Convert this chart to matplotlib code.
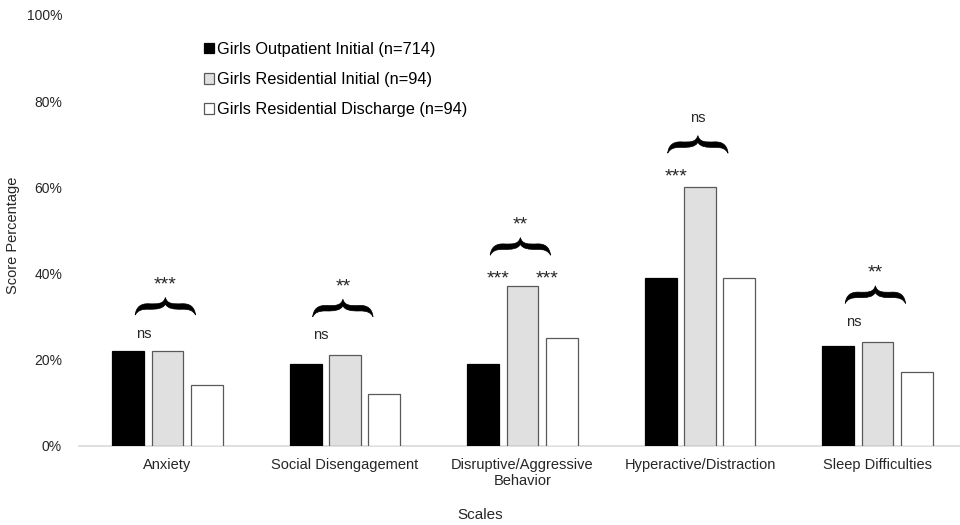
"""
Grouped bar chart: girls outpatient vs residential score percentages by scale.
"""
import numpy as np
import matplotlib
matplotlib.use("Agg")
import matplotlib.pyplot as plt
from matplotlib.patches import Patch, PathPatch
from matplotlib.path import Path
from matplotlib.ticker import PercentFormatter

plt.rcParams['font.family'] = ['Liberation Sans', 'DejaVu Sans']

# Data
categories = ['Anxiety', 'Social Disengagement', 'Disruptive/Aggressive\nBehavior',
              'Hyperactive/Distraction', 'Sleep Difficulties']
series_names = ['Girls Outpatient Initial (n=714)',
                'Girls Residential Initial (n=94)',
                'Girls Residential Discharge (n=94)']
outpatient_initial = [22, 19, 19, 39, 23]
residential_initial = [22, 21, 37, 60, 24]
residential_discharge = [14, 12, 25, 39, 17]

# significance marks: above brace, left of brace, right of brace
sig_top = ['***', '**', '**', 'ns', '**']
sig_left = ['ns', 'ns', '***', '***', 'ns']
sig_right = ['', '', '***', '', '']

# annotation layout (brace bottom, in % units)
brace_base = [30.3, 29.9, 44.2, 67.9, 33.0]

fill_colors = ['#000000', '#e0e0e0', '#ffffff']
edge_colors = ['#000000', '#595959', '#595959']


def draw_brace(ax, xc, y0, half_w=0.17, h=4.1):
    """Filled over-brace with its tip pointing up."""
    def p(u, v):
        return (xc + u * half_w, y0 + v * h)
    verts = [p(-1, 0),
             p(-0.97, 0.45), p(-0.82, 0.66), p(-0.55, 0.64),
             p(-0.25, 0.62), p(-0.06, 0.62), p(0, 1.0),
             p(0.06, 0.62), p(0.25, 0.62), p(0.55, 0.64),
             p(0.82, 0.66), p(0.97, 0.45), p(1, 0),
             p(0.92, 0.25), p(0.8, 0.34), p(0.55, 0.33),
             p(0.28, 0.32), p(0.08, 0.36), p(0, 0.62),
             p(-0.08, 0.36), p(-0.28, 0.32), p(-0.55, 0.33),
             p(-0.8, 0.34), p(-0.92, 0.25), p(-1, 0),
             p(-1, 0)]
    codes = ([Path.MOVETO] + [Path.CURVE4] * 24 + [Path.CLOSEPOLY])
    ax.add_patch(PathPatch(Path(verts, codes), facecolor='black',
                           edgecolor='black', lw=0.5, zorder=4))


def sig_text(ax, xpos, ypos, label):
    # asterisks sit high in the font, so draw them larger and a bit lower
    if '*' in label:
        ax.text(xpos, ypos - 1.2, label, ha='center', va='center',
                fontsize=14, zorder=5, color='#262626')
    else:
        ax.text(xpos, ypos, label, ha='center', va='center',
                fontsize=10.5, zorder=5, color='#262626')


fig = plt.figure(figsize=(9.6, 5.25), dpi=100)
ax = fig.add_axes([78.75 / 960, 79.5 / 525, 887.5 / 960, 430.5 / 525])

x = np.arange(len(categories))
step = 0.221
width = 0.18
all_series = [outpatient_initial, residential_initial, residential_discharge]
for i, vals in enumerate(all_series):
    ax.bar(x + (i - 1) * step, vals, width, color=fill_colors[i],
           edgecolor=edge_colors[i], linewidth=0.9, zorder=3)

ax.set_xlim(-0.5, 4.5)
ax.set_ylim(0, 100)
ax.set_yticks(np.arange(0, 101, 20))
ax.yaxis.set_major_formatter(PercentFormatter(decimals=0))
ax.set_xticks(x)
ax.set_xticklabels(categories, fontsize=10.5, linespacing=1.2)
ax.tick_params(axis='y', length=0, pad=12, labelsize=10, colors='#262626')
ax.tick_params(axis='x', length=0, pad=9, colors='#262626')
for side in ['top', 'right', 'left']:
    ax.spines[side].set_visible(False)
ax.spines['bottom'].set_color('#d9d9d9')
ax.spines['bottom'].set_linewidth(1.2)

fig.text(13 / 960, 1 - 235 / 525, 'Score Percentage', rotation=90,
         ha='center', va='center', fontsize=10.5, color='#262626')
fig.text(480 / 960, 1 - 515 / 525, 'Scales', ha='center', va='center',
         fontsize=11, color='#262626')

# significance braces and marks
for i in range(len(categories)):
    xc = x[i] - 0.012
    draw_brace(ax, xc, brace_base[i])
    sig_text(ax, xc, brace_base[i] + 8.2, sig_top[i])
    sig_text(ax, x[i] - 0.135, brace_base[i] - 4.3, sig_left[i])
    if sig_right[i]:
        sig_text(ax, x[i] + 0.138, brace_base[i] - 4.3, sig_right[i])

handles = [Patch(facecolor=fill_colors[i], edgecolor=edge_colors[i], linewidth=0.9)
           for i in range(3)]
fig.legend(handles, series_names, loc='upper left',
           bbox_to_anchor=(204 / 960, 1 - 42 / 525), frameon=False,
           fontsize=11.8, handlelength=0.6, handleheight=0.6,
           handletextpad=0.2, labelspacing=0.92, borderpad=0, borderaxespad=0)

fig.savefig('out.png', dpi=100)
